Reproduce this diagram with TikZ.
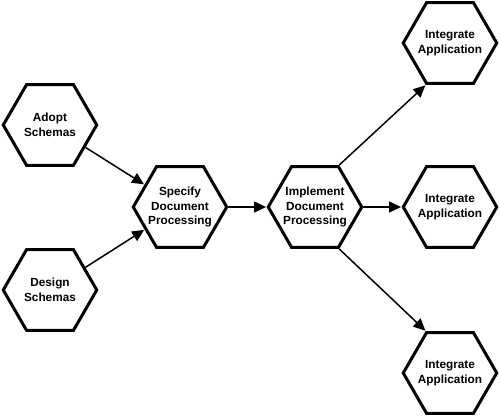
\documentclass[tikz,border=0pt]{standalone}
\usepackage{fontspec}
\setmainfont{Liberation Sans}
\usetikzlibrary{shapes.geometric,arrows.meta}
\tikzset{
  hexbox/.style={regular polygon, regular polygon sides=6, minimum size=93.5pt,
    inner sep=0pt, draw=black, line width=3pt},
  hextext/.style={align=center, inner sep=0pt,
    font=\bfseries\fontsize{11.8pt}{14.5pt}\selectfont},
  conn/.style={line width=1.5pt, -{Triangle[length=12pt,width=11pt]}, shorten >=0.5pt}
}
\begin{document}
\begin{tikzpicture}[x=1pt,y=-1pt]
\useasboundingbox (0,0) rectangle (500,417);
\node[hexbox, label={[hextext]center:Adopt\\Schemas}] (adopt) at (50,125) {};
\node[hexbox, label={[hextext]center:Design\\Schemas}] (design) at (50,290) {};
\node[hexbox, label={[hextext]center:Specify\\Document\\Processing}] (spec) at (180,207) {};
\node[hexbox, label={[hextext]center:Implement\\Document\\Processing}] (impl) at (315,207) {};
\node[hexbox, label={[hextext]center:Integrate\\Application}] (int1) at (450,43) {};
\node[hexbox, label={[hextext]center:Integrate\\Application}] (int2) at (450,207) {};
\node[hexbox, label={[hextext]center:Integrate\\Application}] (int3) at (450,373) {};
\draw[conn] (adopt) -- (spec);
\draw[conn] (design) -- (spec);
\draw[conn] (spec.0) -- (impl.180);
\draw[conn] (impl.60) -- (int1.240);
\draw[conn] (impl.0) -- (int2.180);
\draw[conn] (impl.-60) -- (int3.120);
\end{tikzpicture}
\end{document}
